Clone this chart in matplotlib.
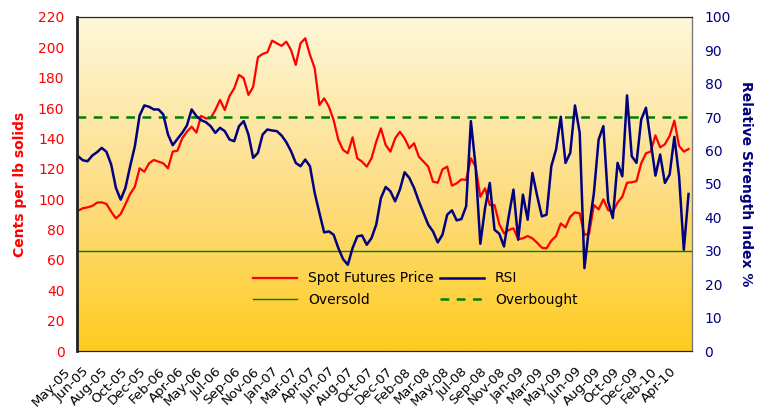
import numpy as np
import matplotlib
matplotlib.use('Agg')
import matplotlib.pyplot as plt
import matplotlib.transforms as mtransforms
from matplotlib.colors import LinearSegmentedColormap

# fortnightly samples (week index 0..258)
weeks = np.arange(0, 260, 2)

price = [92.4, 94, 94.6, 95.5, 97.7, 97.9, 96.8, 91.7, 87.3, 90.2,
         96.6, 103.4, 108.2, 120.3, 118.1, 123.6, 125.8, 124.7, 123.6, 120.3,
         131.3, 131.9, 140, 144.4, 147.7, 143.8, 154.8, 153.2, 153.2, 158.7,
         165.3, 158.7, 167.9, 173, 181.8, 179.6, 168.6, 174, 193.4, 195.6,
         196.7, 204.4, 202.6, 200.9, 203.7, 198.2, 188.4, 202.6, 205.9, 195,
         186.2, 162, 166.4, 160.9, 152.1, 139, 132.4, 130.2, 140.7, 126.9,
         124.7, 121.4, 126.9, 137.8, 146.6, 135.6, 131.3, 140, 144.4, 140,
         133.5, 136.8, 128, 124.7, 121.4, 111.5, 110.8, 119.6, 121.4, 108.9,
         110.4, 113, 112.6, 126.9, 121.4, 101.6, 107.1, 96.1, 96.1, 83.6,
         77.5, 79.7, 80.8, 73.7, 74.2, 75.7, 74.2, 71.3, 68, 67.6,
         72.6, 75.7, 84, 81.4, 88.4, 91.3, 90.6, 76.4, 77.5, 96.1,
         93.3, 99.9, 92.8, 91.7, 97.7, 101.6, 110.8, 111.1, 111.9, 123.6,
         130.2, 131.3, 142, 134.1, 136.1, 141.6, 151.7, 135, 131.3, 133]

rsi = [58.3, 57.1, 56.8, 58.5, 59.5, 60.8, 59.6, 55.8, 48.8, 45.3,
       48.8, 55.3, 61.3, 70.5, 73.5, 73.1, 72.3, 72.3, 70.8, 64.8,
       61.6, 63.5, 65.3, 67.5, 72.3, 70.3, 69.1, 68.5, 67.3, 65.3,
       66.8, 65.8, 63.3, 62.8, 67.3, 68.8, 64.8, 57.8, 59.3, 64.8,
       66.3, 66, 65.8, 64.5, 62.5, 59.8, 56.3, 55.3, 57.3, 55.3,
       47.3, 41.3, 35.5, 35.8, 34.8, 30.8, 27.5, 25.8, 30.8, 34.3,
       34.6, 31.8, 33.8, 37.8, 45.8, 49.1, 47.8, 44.8, 48.3, 53.5,
       51.8, 48.8, 44.8, 41.3, 37.8, 35.8, 32.5, 34.8, 40.8, 42.1,
       39.1, 39.5, 43.3, 68.8, 55.3, 32.1, 42.8, 50.3, 36.3, 35.1,
       31.3, 40.3, 48.3, 33.3, 46.8, 39.3, 53.3, 46.5, 40.3, 40.8,
       55.3, 60.3, 70.1, 56.3, 59.3, 73.5, 65.3, 24.8, 37.3, 47.3,
       63.3, 67.3, 44.8, 39.8, 56.3, 52.3, 76.5, 58.3, 56.3, 69.3,
       72.8, 62.8, 52.5, 58.8, 50.3, 52.8, 64.1, 52.3, 30.3, 47]

oversold = 30
overbought = 70

tick_weeks = np.arange(0, 257, 8)
tick_labels = ['May-05', 'Jun-05', 'Aug-05', 'Oct-05', 'Dec-05', 'Feb-06', 'Apr-06',
               'May-06', 'Jul-06', 'Sep-06', 'Nov-06', 'Jan-07', 'Mar-07', 'Apr-07',
               'Jun-07', 'Aug-07', 'Oct-07', 'Dec-07', 'Feb-08', 'Mar-08', 'May-08',
               'Jul-08', 'Sep-08', 'Nov-08', 'Jan-09', 'Mar-09', 'May-09', 'Jun-09',
               'Aug-09', 'Oct-09', 'Dec-09', 'Feb-10', 'Apr-10']

red = '#FF0000'
navy = '#000080'
green = '#008000'

fig = plt.figure(figsize=(7.69, 4.12), dpi=100)
ax = fig.add_axes([0.100, 0.148, 0.800, 0.811])
ax2 = ax.twinx()

# background gradient, pale cream at top to gold at bottom
cmap = LinearSegmentedColormap.from_list('bg', [(0, '#FFCC1E'), (0.45, '#FDDC80'), (1, '#FEF7DA')])
grad = np.linspace(0, 1, 256).reshape(-1, 1)
ax.imshow(grad, cmap=cmap, origin='lower', extent=[0, 1, 0, 1],
          transform=ax.transAxes, aspect='auto', zorder=0)

l1, = ax.plot(weeks, price, color=red, lw=1.6, zorder=3)
ax.set_ylim(0, 220)
ax.set_yticks(np.arange(0, 221, 20))
ax.set_xlim(-0.5, 259.5)

l3 = ax2.axhline(oversold, color=green, lw=1.0)
l4 = ax2.axhline(overbought, color=green, lw=1.8, ls=(0, (3.5, 3)))
l2, = ax2.plot(weeks, rsi, color=navy, lw=1.8)
ax2.set_ylim(0, 100)
ax2.set_yticks(np.arange(0, 101, 10))

ax.set_xticks(tick_weeks)
ax.set_xticklabels(tick_labels, rotation=45, ha='right', fontsize=9.5)
ax.tick_params(axis='x', length=0, pad=10)
shift = mtransforms.ScaledTranslation(-0.05, 0, fig.dpi_scale_trans)
for lab in ax.get_xticklabels():
    lab.set_transform(lab.get_transform() + shift)
ax.tick_params(axis='y', length=0, colors=red, labelsize=10, pad=9)
ax2.tick_params(axis='y', length=0, colors=navy, labelsize=10, pad=9)

ax.set_ylabel('Cents per lb solids', color=red, fontsize=10, fontweight='bold', labelpad=8)
ax2.set_ylabel('Relative Strength Index %', color=navy, fontsize=10, fontweight='bold',
               rotation=270, labelpad=16)

for s in ['left', 'bottom', 'top']:
    ax2.spines[s].set_color('#222222')
ax2.spines['left'].set_linewidth(2)
ax2.spines['right'].set_color('#777777')

ax2.legend([l1, l3, l2, l4], ['Spot Futures Price', 'Oversold', 'RSI', 'Overbought'],
           ncol=2, frameon=False, loc='center', bbox_to_anchor=(0.55, 0.185),
           fontsize=10, handlelength=3.2, columnspacing=0.4, labelspacing=0.55)

fig.savefig('out.png', dpi=100)
